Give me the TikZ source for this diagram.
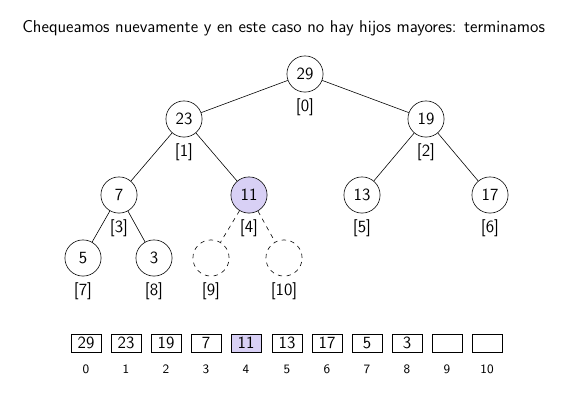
\documentclass[tikz,border=0pt]{standalone}
\usepackage{tikz}
\usetikzlibrary{positioning}
\renewcommand{\familydefault}{\sfdefault}
\definecolor{marked}{RGB}{216,208,245}
\def\NodeSize{8.7mm}
\def\CellWidth{7.2mm}
\def\CellHeight{4.3mm}

\tikzset{
  heapnode/.style={draw, circle, minimum size=\NodeSize, inner sep=0pt},
  emptynode/.style={heapnode, dashed},
  cell/.style={draw, minimum width=\CellWidth, minimum height=\CellHeight, inner sep=0pt},
  idx/.style={inner sep=0pt},
  cellidx/.style={font=\fontsize{8.8}{10}\selectfont, inner sep=0pt}
}

\begin{document}
\begin{tikzpicture}[x=0.24055mm,y=-0.24055mm, font=\fontsize{11.7}{14}\selectfont]
  \useasboundingbox (0,0) rectangle (582,410);
  % title
  \node[anchor=base west, inner sep=0pt] (title) at (22,32)
    {Chequeamos nuevamente y en este caso no hay hijos mayores: terminamos};
  % heap
  \node[heapnode] (n0) at (305,74) {29};
  \node[heapnode] (n1) at (184,119) {23};
  \node[heapnode] (n2) at (426,119) {19};
  \node[heapnode] (n3) at (119,195) {7};
  \node[heapnode, fill=marked] (n4) at (249,195) {11};
  \node[heapnode] (n5) at (362,195) {13};
  \node[heapnode] (n6) at (490,195) {17};
  \node[heapnode] (n7) at (83,258) {5};
  \node[heapnode] (n8) at (154,258) {3};
  \node[emptynode] (n9) at (211,258) {};
  \node[emptynode] (n10) at (284,258) {};
  % edges
  \draw (n0) -- (n1);
  \draw (n0) -- (n2);
  \draw (n1) -- (n3);
  \draw (n1) -- (n4);
  \draw (n2) -- (n5);
  \draw (n2) -- (n6);
  \draw (n3) -- (n7);
  \draw (n3) -- (n8);
  \draw[dashed] (n4) -- (n9);
  \draw[dashed] (n4) -- (n10);
  % indices
  \node[idx, below=1.4mm of n0] (i0) {[0]};
  \node[idx, below=1.4mm of n1] (i1) {[1]};
  \node[idx, below=1.4mm of n2] (i2) {[2]};
  \node[idx, below=1.4mm of n3] (i3) {[3]};
  \node[idx, below=1.4mm of n4] (i4) {[4]};
  \node[idx, below=1.4mm of n5] (i5) {[5]};
  \node[idx, below=1.4mm of n6] (i6) {[6]};
  \node[idx, below=1.4mm of n7] (i7) {[7]};
  \node[idx, below=1.4mm of n8] (i8) {[8]};
  \node[idx, below=1.4mm of n9] (i9) {[9]};
  \node[idx, below=1.4mm of n10] (i10) {[10]};
  % array
  \node[cell] (c0) at (86,343) {29};
  \node[cell] (c1) at (126,343) {23};
  \node[cell] (c2) at (166,343) {19};
  \node[cell] (c3) at (206,343) {7};
  \node[cell, fill=marked] (c4) at (246,343) {11};
  \node[cell] (c5) at (287,343) {13};
  \node[cell] (c6) at (327,343) {17};
  \node[cell] (c7) at (367,343) {5};
  \node[cell] (c8) at (407,343) {3};
  \node[cell] (c9) at (447,343) {};
  \node[cell] (c10) at (487,343) {};
  \foreach \i in {0,...,10}
    \node[cellidx, below=3mm of c\i] (p\i) {\i};
\end{tikzpicture}
\end{document}
